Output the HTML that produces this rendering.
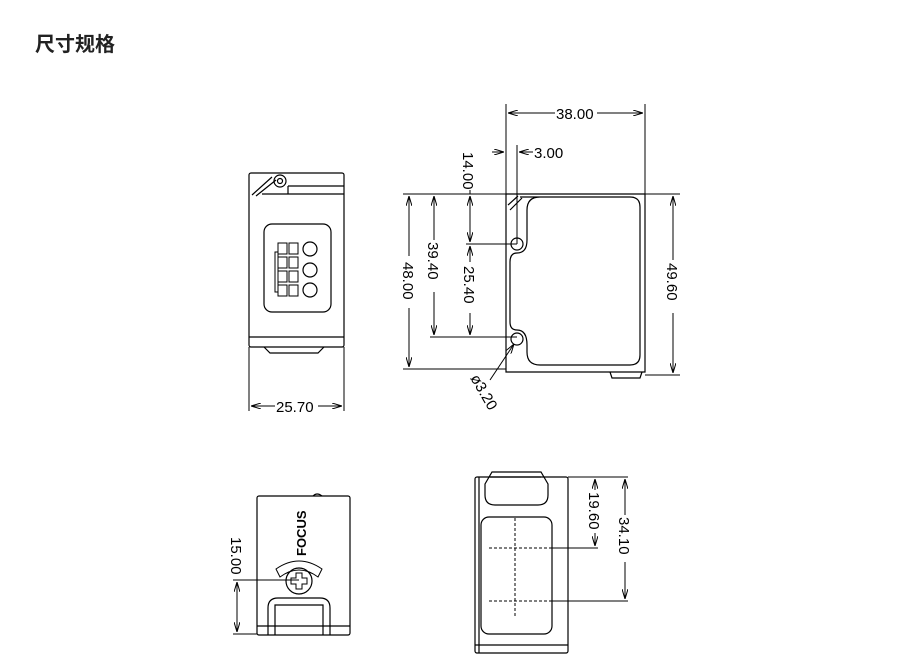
<!DOCTYPE html>
<html><head><meta charset="utf-8"><style>
html,body{margin:0;padding:0;background:#fff;width:900px;height:669px;overflow:hidden}
.t{position:absolute;left:35px;top:28px;font:bold 20px "Liberation Sans","Noto Sans CJK SC",sans-serif;color:#222}
svg{position:absolute;left:0;top:0}
text{font-family:"Liberation Sans",sans-serif;font-size:15px;fill:#000}
</style></head><body>
<div class="t">尺寸规格</div>
<svg width="900" height="669" viewBox="0 0 900 669">
<defs><marker id="a" markerWidth="10" markerHeight="6" refX="10" refY="3" orient="auto-start-reverse" markerUnits="userSpaceOnUse"><path d="M0,0 L10,3 L0,6" fill="none" stroke="#000" stroke-width="1"/></marker></defs>
<g fill="none" stroke="#000" stroke-width="1.2">
<!-- top-left view -->
<rect x="249" y="173" width="95" height="174" rx="2"/>
<line x1="249" y1="337" x2="344" y2="337"/>
<line x1="262" y1="194" x2="344" y2="194"/>
<line x1="288" y1="186" x2="344" y2="186"/>
<path d="M288,186 L288,194"/>
<circle cx="280" cy="181" r="6"/><circle cx="280" cy="181" r="2.5"/>
<path d="M252,195 L272,177 M256,196 L276,180"/>
<path d="M264,347 L270,353 L318,353 L324,347"/>
<rect x="264" y="224" width="67" height="88" rx="8"/>
<g stroke-width="1">
<rect x="278" y="243" width="9" height="11"/><rect x="289" y="243" width="9" height="11"/>
<rect x="278" y="257" width="9" height="11"/><rect x="289" y="257" width="9" height="11"/>
<rect x="278" y="271" width="9" height="11"/><rect x="289" y="271" width="9" height="11"/>
<rect x="278" y="285" width="9" height="11"/><rect x="289" y="285" width="9" height="11"/>
<rect x="275" y="252" width="3" height="40"/>
</g>
<circle cx="310" cy="249" r="7"/><circle cx="310" cy="270" r="7"/><circle cx="310" cy="290" r="7"/>
<g stroke-width="1">
<line x1="249" y1="347" x2="249" y2="411"/><line x1="344" y1="347" x2="344" y2="411"/>
<line x1="251" y1="406" x2="275" y2="406" marker-start="url(#a)"/>
<line x1="318" y1="406" x2="342" y2="406" marker-end="url(#a)"/>
</g>
<!-- side view -->
<path d="M506,194 L645,194 L645,372 L506,372 Z"/>
<path d="M520,197 L630,197 Q640,197 640,207 L640,355 Q640,365 630,365 L540,365 Q527,365 527,352 L527,345 Q527,330 517,330 Q510,330 510,322 L510,262 Q510,253 517,253 Q527,253 527,240 L527,210 Q527,197 540,197"/>
<path d="M508,205 L518,196 M510,210 L522,198"/>
<circle cx="517" cy="244" r="6"/><circle cx="517" cy="339" r="6"/>
<path d="M610,372 L612,378 L640,378 L642,372"/>
<g stroke-width="1">
<line x1="506" y1="104" x2="506" y2="194"/><line x1="645" y1="104" x2="645" y2="194"/>
<line x1="508" y1="113" x2="555" y2="113" marker-start="url(#a)"/>
<line x1="597" y1="113" x2="643" y2="113" marker-end="url(#a)"/>
<line x1="517" y1="145" x2="517" y2="244"/>
<line x1="519" y1="152" x2="533" y2="152" marker-start="url(#a)"/>
<line x1="492" y1="152" x2="504" y2="152" marker-end="url(#a)"/>
<line x1="403" y1="194" x2="506" y2="194"/><line x1="645" y1="194" x2="680" y2="194"/>
<line x1="403" y1="369" x2="506" y2="369"/><line x1="645" y1="375" x2="680" y2="375"/>
<line x1="466" y1="244" x2="517" y2="244"/><line x1="430" y1="337" x2="517" y2="337"/>
<line x1="409" y1="196" x2="409" y2="256" marker-start="url(#a)"/><line x1="409" y1="308" x2="409" y2="367" marker-end="url(#a)"/>
<line x1="434" y1="196" x2="434" y2="240" marker-start="url(#a)"/><line x1="434" y1="292" x2="434" y2="335" marker-end="url(#a)"/>
<line x1="470" y1="196" x2="470" y2="242" marker-start="url(#a)" marker-end="url(#a)"/>
<line x1="470" y1="246" x2="470" y2="262" marker-start="url(#a)"/><line x1="470" y1="313" x2="470" y2="335" marker-end="url(#a)"/>
<line x1="470" y1="190" x2="470" y2="194"/>
<line x1="673" y1="196" x2="673" y2="260" marker-start="url(#a)"/><line x1="673" y1="313" x2="673" y2="373" marker-end="url(#a)"/>
<line x1="490" y1="380" x2="514" y2="344" marker-end="url(#a)"/>
</g>
<!-- bottom-left view -->
<rect x="257" y="496" width="93" height="139" rx="2"/>
<line x1="257" y1="626" x2="350" y2="626"/>
<path d="M313,496 Q317,492 322,496"/>
<circle cx="299" cy="581" r="13"/>
<path d="M296,573 h6 v5 h5 v6 h-5 v5 h-6 v-5 h-5 v-6 h5 z" stroke-width="1"/>
<path d="M276,569 Q299,553 322,569 L318,577 Q299,563 280,577 Z" stroke-width="1"/>
<path d="M268,635 L268,608 Q268,598 278,598 L320,598 Q330,598 330,608 L330,635 M275,635 L275,605 L323,605 L323,635"/>
<g stroke-width="1">
<line x1="233" y1="580" x2="299" y2="580"/><line x1="233" y1="634" x2="257" y2="634"/>
<line x1="237" y1="582" x2="237" y2="632" marker-start="url(#a)" marker-end="url(#a)"/>
</g>
<!-- bottom-right view -->
<rect x="475" y="477" width="93" height="176" rx="2"/>
<line x1="475" y1="645" x2="568" y2="645"/>
<line x1="479" y1="477" x2="479" y2="653"/>
<path d="M485,484 L492,472 L541,472 L548,484 L548,495 Q548,505 538,505 L495,505 Q485,505 485,495 Z"/>
<line x1="490" y1="477" x2="541" y2="477"/>
<rect x="481" y="517" width="71" height="117" rx="8"/>
<g stroke-width="1">
<line x1="489" y1="548" x2="552" y2="548" stroke-dasharray="3,2"/>
<line x1="489" y1="601" x2="552" y2="601" stroke-dasharray="3,2"/>
<line x1="515" y1="518" x2="515" y2="617" stroke-dasharray="3,2"/>
<line x1="552" y1="548" x2="598" y2="548"/><line x1="552" y1="601" x2="628" y2="601"/>
<line x1="568" y1="477" x2="628" y2="477"/>
<line x1="595" y1="479" x2="595" y2="490" marker-start="url(#a)"/><line x1="595" y1="533" x2="595" y2="546" marker-end="url(#a)"/>
<line x1="625" y1="479" x2="625" y2="515" marker-start="url(#a)"/><line x1="625" y1="562" x2="625" y2="599" marker-end="url(#a)"/>
</g>
</g>
<text x="276" y="412">25.70</text>
<text x="556" y="119">38.00</text>
<text x="534" y="158">3.00</text>
<g transform="translate(463,152) rotate(90)"><text x="0" y="0">14.00</text></g>
<g transform="translate(403,262) rotate(90)"><text x="0" y="0">48.00</text></g>
<g transform="translate(428,242) rotate(90)"><text x="0" y="0">39.40</text></g>
<g transform="translate(464,266) rotate(90)"><text x="0" y="0">25.40</text></g>
<g transform="translate(667,263) rotate(90)"><text x="0" y="0">49.60</text></g>
<g transform="translate(470,378) rotate(60)"><text x="0" y="0">ø3.20</text></g>
<g transform="translate(231,537) rotate(90)"><text x="0" y="0">15.00</text></g>
<g transform="translate(589,492) rotate(90)"><text x="0" y="0">19.60</text></g>
<g transform="translate(619,517) rotate(90)"><text x="0" y="0">34.10</text></g>
<g transform="translate(306,556) rotate(-90)"><text x="0" y="0" style="font-weight:bold;font-size:13px">FOCUS</text></g>
</svg>
</body></html>
